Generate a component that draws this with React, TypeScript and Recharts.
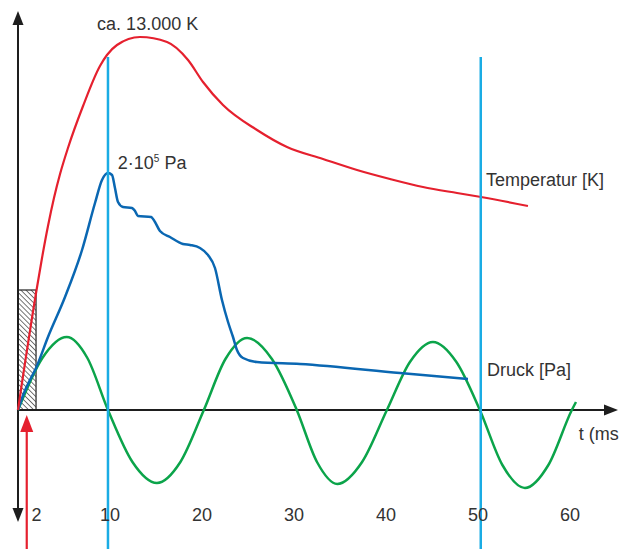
import React from "react";
import {
  LineChart,
  Line,
  XAxis,
  YAxis,
  ReferenceLine,
  ReferenceArea,
  ReferenceDot,
} from "recharts";

// t in ms, v in arbitrary units (0 = time axis)
const TICKS = [2, 10, 20, 30, 40, 50, 60];

const tempT = [0, 0.43, 0.98, 1.52, 1.96, 2.61, 3.26, 3.91, 4.57, 5.43, 7.07, 8.91, 9.67, 10.76, 13.26, 16.2, 18.48, 20.11, 22.28, 25.98, 29.24, 33.15, 36.85, 40.43, 44.02, 47.72, 50.33, 55.43];
const tempV = [0, 27, 60, 92, 117, 152, 184, 212, 236, 262, 304, 344, 355, 365, 373, 368, 350, 328, 305, 280, 263, 251, 240, 231, 223, 217, 213, 204];

const druckT = [0, 0.65, 1.3, 1.96, 3.26, 5.11, 6.96, 8.37, 9.13, 9.78, 10.22, 10.54, 10.87, 11.41, 12.39, 12.72, 13.04, 14.46, 14.89, 15.43, 16.52, 17.93, 18.7, 19.78, 20.65, 21.41, 22.17, 22.83, 23.37, 23.8, 24.46, 25.98, 30.65, 41.52, 48.91];
const druckV = [0, 17, 30, 42, 73, 113, 160, 207, 230, 237, 235, 222, 208, 203, 202, 199, 194, 193, 188, 179, 173, 166, 165, 162, 155, 142, 110, 88, 73, 60, 52, 48, 46, 37, 31];

const schallT = [0, 2.65, 5.3, 7.54, 9.78, 12.44, 15.1, 17.65, 20.2, 22.55, 24.9, 27.6, 30.3, 32.5, 34.7, 37.4, 40.1, 42.6, 45.1, 47.65, 50.2, 52.65, 55.1, 57.65, 60.2, 60.65];
const schallV = [0, 52, 73, 52, 0, -52, -73, -52, 0, 51, 72, 51, 0, -52, -74, -52, 0, 48, 68, 48, 0, -55, -78, -55, 0, 8];

const zip = (ts: number[], vs: number[]) => ts.map((t, i) => ({ t, v: vs[i] }));
const temperatur = zip(tempT, tempV);
const druck = zip(druckT, druckV);
const schall = zip(schallT, schallV);

const FONT = "'Liberation Sans', Arial, sans-serif";
const TEXT = "#333333";

const ArrowLine = (p: any) => {
  const { x1, y1, x2, y2, color, w, len, half, both } = p;
  const dx = x2 - x1;
  const dy = y2 - y1;
  const d = Math.hypot(dx, dy) || 1;
  const ux = dx / d;
  const uy = dy / d;
  const nx = -uy;
  const ny = ux;
  const head = (tx: number, ty: number, sx: number, sy: number) => {
    const bx = tx - sx * len;
    const by = ty - sy * len;
    return `${tx},${ty} ${bx + nx * half},${by + ny * half} ${bx - nx * half},${by - ny * half}`;
  };
  return (
    <g>
      <line
        x1={both ? x1 + ux * (len - 2) : x1}
        y1={both ? y1 + uy * (len - 2) : y1}
        x2={x2 - ux * (len - 2)}
        y2={y2 - uy * (len - 2)}
        stroke={color}
        strokeWidth={w}
      />
      <polygon points={head(x2, y2, ux, uy)} fill={color} />
      {both && <polygon points={head(x1, y1, -ux, -uy)} fill={color} />}
    </g>
  );
};

const Hatch = (p: any) => (
  <g>
    <defs>
      <pattern
        id="hatch"
        width="3.6"
        height="3.6"
        patternUnits="userSpaceOnUse"
        patternTransform="rotate(-45)"
      >
        <line x1="0" y1="-1" x2="0" y2="5" stroke="#1a1a1a" strokeWidth="1.2" />
      </pattern>
    </defs>
    <rect
      x={p.x}
      y={p.y}
      width={p.width}
      height={p.height}
      fill="url(#hatch)"
      stroke="#333"
      strokeWidth={1.3}
    />
  </g>
);

const label = (text: React.ReactNode) => (p: any) => (
  <text x={p.cx} y={p.cy} fill={TEXT} fontSize={18} fontFamily={FONT}>
    {text}
  </text>
);

export default function App() {
  return (
    <div style={{ position: "absolute", left: 0, top: 0 }}>
      <LineChart width={620} height={549} margin={{ top: 0, right: 0, bottom: 0, left: 0 }}>
        <XAxis
          dataKey="t"
          type="number"
          domain={[-1.9565, 65.4348]}
          allowDataOverflow
          ticks={TICKS}
          interval={0}
          axisLine={false}
          tickLine={false}
          tickSize={6}
          tickMargin={2}
          height={49}
          tick={{ fill: TEXT, fontSize: 18, fontFamily: FONT }}
        />
        <YAxis hide type="number" domain={[-90, 410]} allowDataOverflow />

        {/* axes */}
        <ReferenceLine
          segment={[{ x: 0, y: -112 }, { x: 0, y: 399 }]}
          ifOverflow="visible"
          shape={(p: any) => <ArrowLine {...p} color="#1e1e1e" w={2} len={14} half={5.5} both />}
        />
        <ReferenceLine
          segment={[{ x: 0, y: 0 }, { x: 65.22, y: 0 }]}
          ifOverflow="visible"
          shape={(p: any) => <ArrowLine {...p} color="#1e1e1e" w={2} len={14} half={5.5} />}
        />

        <ReferenceArea x1={0} x2={1.96} y1={0} y2={120} ifOverflow="visible" shape={Hatch} />

        <Line data={schall} dataKey="v" type="monotone" stroke="#0ba44a" strokeWidth={2.5} dot={false} activeDot={false} isAnimationActive={false} />
        <Line data={druck} dataKey="v" type="monotone" stroke="#0a67b2" strokeWidth={2.5} dot={false} activeDot={false} isAnimationActive={false} />
        <Line data={temperatur} dataKey="v" type="monotone" stroke="#e5202e" strokeWidth={2.2} dot={false} activeDot={false} isAnimationActive={false} />

        <ReferenceLine segment={[{ x: 9.78, y: 353 }, { x: 9.78, y: -139 }]} ifOverflow="visible" stroke="#1aace4" strokeWidth={2.5} />
        <ReferenceLine segment={[{ x: 50.3, y: 353 }, { x: 50.3, y: -139 }]} ifOverflow="visible" stroke="#1aace4" strokeWidth={2.5} />

        {/* trigger arrow */}
        <ReferenceLine
          segment={[{ x: 0.95, y: -139 }, { x: 0.95, y: -5 }]}
          ifOverflow="visible"
          shape={(p: any) => <ArrowLine {...p} color="#e5202e" w={2.2} len={17} half={6.5} />}
        />

        <ReferenceDot x={8.6} y={380} ifOverflow="visible" shape={label("ca. 13.000 K")} />
        <ReferenceDot
          x={10.85}
          y={241}
          ifOverflow="visible"
          shape={label(
            <>
              <tspan>2·10</tspan>
              <tspan fontSize={10} dy={-7}>5</tspan>
              <tspan dy={7}> Pa</tspan>
            </>
          )}
        />
        <ReferenceDot x={50.87} y={224} ifOverflow="visible" shape={label("Temperatur [K]")} />
        <ReferenceDot x={50.98} y={34} ifOverflow="visible" shape={label("Druck [Pa]")} />
        <ReferenceDot x={60.95} y={-30} ifOverflow="visible" shape={label("t (ms")} />
      </LineChart>
    </div>
  );
}
